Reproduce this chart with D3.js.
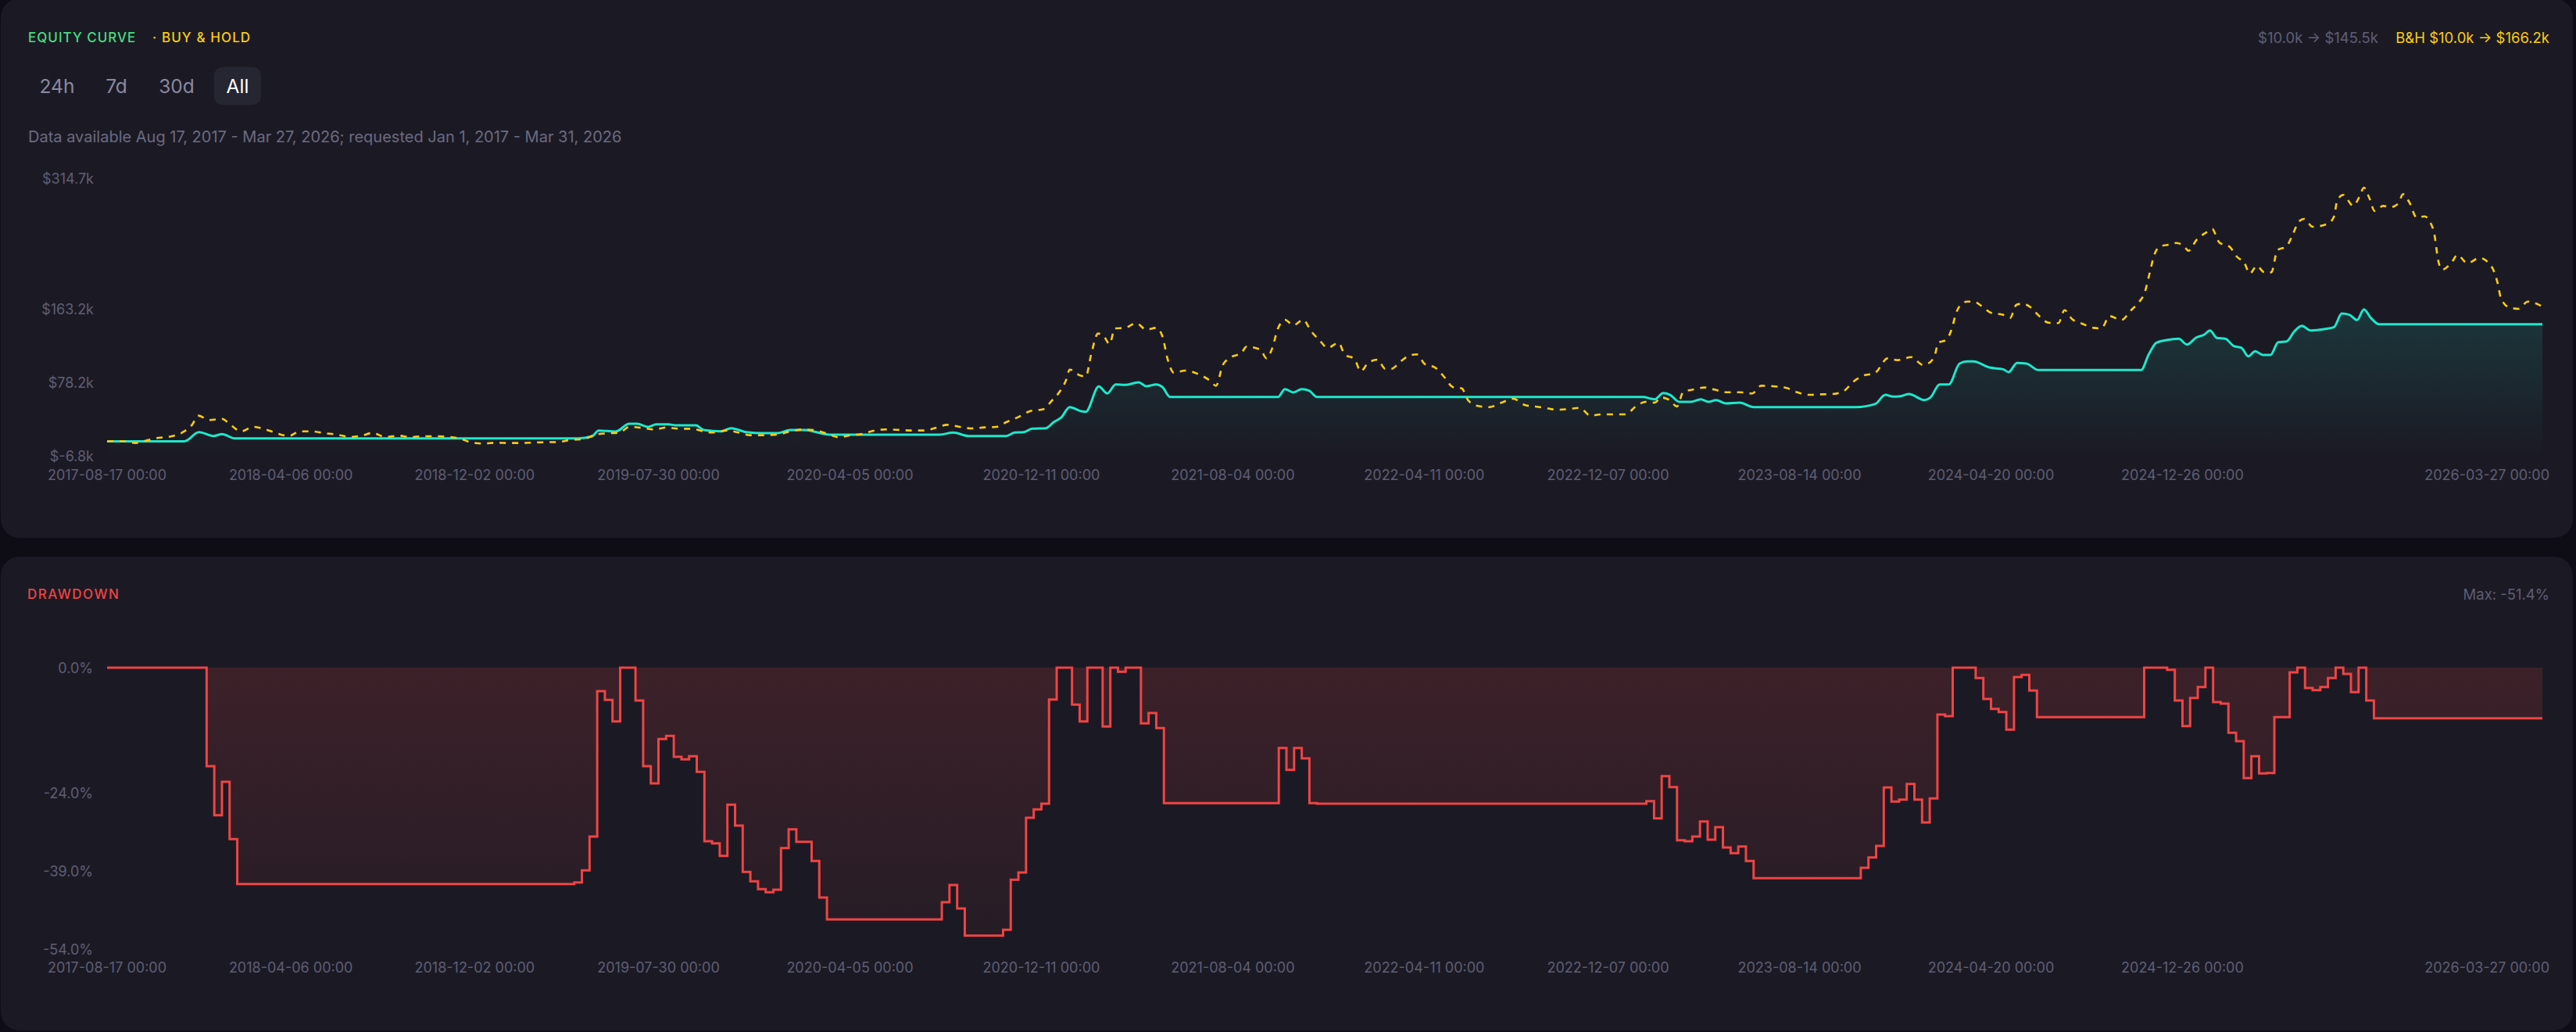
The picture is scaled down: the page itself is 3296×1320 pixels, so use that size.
<!DOCTYPE html>
<html>
<head>
<meta charset="utf-8">
<script src="https://cdn.jsdelivr.net/npm/d3@7"></script>
<style>
  html, body { margin: 0; padding: 0; background: #0e0d16; }
  svg { display: block; font-family: Inter, "Noto Sans", sans-serif; }
</style>
</head>
<body>
<div id="chart"></div>
<script>
// Equity curve vs buy & hold, with drawdown panel underneath

// ---- Data (x = sample index along the backtest, values in $k / %) ----
var strategyPts = [[0,10],[10.1,10],[12.0,20.6],[13.9,16.1],[15.0,18.3],[16.7,13.4],[61.5,13.4],[63.3,15.6],[64.2,22.5],[66.4,21.3],[68.2,30.3],[69.2,30.3],[70.7,26.7],[71.7,29.7],[73.3,29.7],[74.3,28.5],[76.9,28.5],[77.9,23.1],[80.2,21.5],[81.5,25.2],[83.5,20.6],[85.6,19.5],[87.6,19.5],[89.2,23.1],[91.2,23.1],[92.2,21.5],[94.3,17.7],[108.7,17.7],[110.5,20.1],[112.5,16.1],[117.4,16.1],[118.5,20.1],[119.7,20.6],[120.8,24.6],[122.6,25.2],[123.6,32.1],[124.6,37.6],[125.7,49.6],[127.2,44.8],[127.8,44.2],[129.5,73.5],[130.6,65.4],[131.7,75.9],[132.9,75.3],[134.7,78.3],[135.7,73.8],[137.0,75.9],[137.8,72.9],[138.8,61.4],[152.9,61.4],[153.8,70.5],[154.9,66.6],[156.0,70.5],[157.0,68.4],[158.0,61.4],[200.6,61.4],[201.6,59.3],[202.1,58.7],[203.2,65.9],[204.1,63.8],[205.3,55.7],[206.8,55.7],[208.1,58.7],[209.1,55.7],[210.1,57.8],[211.4,53.9],[213.2,54.8],[215.0,49.6],[228.4,49.6],[230.9,53.3],[232.2,63.8],[233.2,61.7],[234.2,62.3],[235.3,64.7],[237.3,57.8],[238.1,60.8],[239.3,75.9],[240.5,75.9],[241.9,100.1],[242.9,102.5],[243.7,102.5],[245.8,95.5],[247.6,93.4],[248.3,90.1],[249.4,100.7],[250.6,100.1],[252.2,92.5],[265.6,92.5],[266.6,110.7],[267.6,124.2],[268.9,127.2],[270.5,128.8],[271.6,122.1],[272.8,130.2],[273.8,133.3],[274.6,138.4],[275.5,129.7],[276.6,128.8],[277.7,120.3],[278.7,118.2],[279.6,108.5],[280.5,114.3],[281.5,110.0],[282.5,110.0],[283.5,124.8],[284.6,125.7],[285.6,137.2],[286.6,143.8],[287.7,138.4],[289.5,139.9],[290.8,142.4],[291.8,158.0],[292.8,156.6],[293.8,150.5],[294.7,162.8],[295.6,152.9],[296.7,145.5],[318,145.5]];

var buyHoldPts = [[0,10],[1.9,10.2],[3.7,8.0],[5.2,11.0],[6.7,14.0],[8.3,15.6],[9.8,20.1],[11.1,29.1],[11.9,39.7],[13.4,34.6],[15.0,36.0],[16.2,28.5],[17.5,21.5],[19.1,26.7],[20.6,24.0],[22.1,19.5],[23.7,16.1],[25.2,21.5],[26.8,21.5],[28.3,19.5],[30.1,17.7],[31.7,14.9],[33.2,16.5],[34.7,19.7],[36.3,14.9],[38.1,16.5],[39.6,14.9],[41.2,15.8],[43.0,15.8],[44.5,15.2],[46.1,13.1],[47.6,8.6],[49.2,7.4],[50.7,8.3],[52.5,8.0],[54.0,8.0],[55.8,8.6],[57.3,8.9],[58.9,9.2],[60.5,11.6],[62.2,12.5],[63.8,17.7],[65.3,19.2],[66.9,20.1],[68.2,26.7],[69.9,25.5],[71.5,23.7],[73.0,26.1],[74.6,24.6],[76.4,24.6],[77.9,21.5],[78.9,20.1],[80.9,22.5],[82.5,20.1],[84.0,17.1],[85.6,17.1],[87.4,17.7],[89.2,21.5],[90.9,23.7],[92.2,23.1],[93.8,19.5],[95.6,14.7],[97.1,17.1],[98.7,18.6],[100.2,22.5],[101.7,23.7],[103.6,23.1],[105.1,22.5],[106.6,22.5],[108.2,25.5],[109.7,29.1],[111.2,27.0],[112.8,24.9],[114.6,26.1],[116.1,26.7],[117.4,32.1],[119.0,38.2],[120.5,44.8],[122.3,47.3],[123.3,56.4],[124.4,67.7],[125.2,80.4],[125.7,93.1],[127.0,86.5],[127.8,85.0],[128.5,110.7],[129.4,134.8],[130.1,132.4],[130.9,122.7],[131.6,140.8],[132.9,141.4],[134.4,146.9],[135.7,139.3],[137.0,141.4],[137.8,131.8],[138.5,104.6],[139.3,89.5],[140.8,91.9],[142.6,87.4],[143.9,81.0],[144.8,74.4],[145.7,98.5],[146.8,107.6],[148.1,112.1],[148.8,119.7],[150.6,116.1],[151.4,106.1],[152.1,116.7],[152.9,140.8],[153.8,150.8],[154.9,144.4],[156.2,150.8],[157.2,137.8],[158.3,127.2],[159.4,118.2],[160.8,124.2],[161.6,110.7],[162.9,105.2],[163.7,91.0],[164.6,100.1],[165.9,104.6],[166.9,94.0],[167.7,94.0],[168.8,101.6],[170.0,109.1],[171.0,110.7],[172.1,99.2],[173.4,95.5],[174.7,83.5],[175.7,72.9],[176.9,71.4],[177.7,57.8],[179.0,50.9],[180.5,49.6],[182.1,54.8],[183.6,59.3],[185.2,51.8],[186.5,50.3],[187.8,48.7],[189.3,46.6],[190.8,47.3],[192.3,48.7],[193.7,39.7],[195.2,41.2],[196.8,41.2],[198.3,41.2],[199.6,50.3],[200.9,55.7],[202.1,54.8],[202.9,60.8],[204.0,57.8],[205.0,50.3],[205.8,66.8],[207.1,69.9],[208.6,72.3],[209.9,69.9],[211.4,66.8],[213.2,66.8],[214.8,65.4],[216.0,74.4],[217.5,73.8],[219.1,72.3],[220.7,66.8],[222.2,63.8],[223.8,64.4],[225.3,64.7],[226.9,69.0],[227.9,78.1],[229.2,85.6],[230.9,89.5],[232.5,106.1],[233.8,104.0],[235.6,107.6],[237.1,98.5],[237.8,100.1],[238.7,110.7],[239.1,124.2],[240.1,127.2],[240.9,140.8],[241.4,157.4],[241.9,166.5],[242.9,171.9],[243.7,171.9],[244.8,166.5],[246.0,158.9],[247.6,156.5],[248.5,152.9],[249.3,168.0],[250.1,169.5],[251.2,165.0],[252.2,155.9],[253.5,147.4],[254.8,146.9],[255.6,161.9],[256.6,151.4],[257.9,146.3],[259.4,141.4],[260.4,140.8],[261.5,155.0],[263.0,150.5],[264.3,161.9],[265.3,171.0],[266.1,183.1],[266.7,204.2],[267.3,225.3],[268.1,235.9],[269.4,238.0],[270.2,239.8],[271.2,235.9],[271.8,230.7],[272.8,242.9],[274.1,251.9],[274.9,256.1],[275.3,250.1],[275.8,240.4],[277.2,235.0],[278.1,223.9],[279.1,216.3],[279.8,204.2],[280.7,213.3],[281.7,205.7],[282.6,205.7],[283.4,231.4],[284.6,235.9],[285.4,249.5],[286.2,264.6],[286.9,267.6],[288.0,258.5],[290.0,262.2],[290.8,270.6],[291.2,288.7],[292.0,295.4],[293.3,282.7],[294.1,293.2],[294.7,303.8],[295.4,291.8],[296.1,276.7],[297.2,282.7],[298.2,281.2],[299.2,285.7],[299.8,296.3],[300.6,287.3],[301.6,269.1],[302.6,270.6],[303.3,264.6],[303.9,249.5],[304.4,219.3],[304.9,208.8],[306.2,217.8],[306.9,226.0],[308.2,216.3],[309.8,222.3],[311.3,213.3],[312.1,195.2],[312.6,175.5],[313.7,165.0],[314.9,163.5],[316.1,171.9],[318,166.2]];

// drawdown change points (step after), in %
var drawdownPts = [[0,0],[13,-18.9],[14,-28.3],[15,-21.9],[16,-32.9],[17,-41.5],[61,-41.2],[62,-38.9],[63,-32.4],[64,-4.5],[65,-6.2],[66,-10.3],[67,0],[69,-6.3],[70,-18.9],[71,-22.2],[72,-13.7],[73,-13.1],[74,-17.1],[75,-17.6],[76,-17.0],[77,-20.0],[78,-33.3],[79,-33.7],[80,-36.1],[81,-26.3],[82,-30.3],[83,-39.2],[84,-41.0],[85,-42.5],[86,-43.1],[87,-42.6],[88,-34.6],[89,-31.0],[90,-33.4],[92,-37.1],[93,-44.1],[94,-48.3],[109,-45.0],[110,-41.7],[111,-46.2],[112,-51.4],[117,-50.3],[118,-40.7],[119,-39.3],[120,-28.8],[121,-27.2],[122,-26.1],[123,-6.1],[124,0],[126,-7.1],[127,-10.3],[128,0],[130,-11.3],[131,0],[132,-0.8],[133,0],[135,-10.7],[136,-8.7],[137,-11.6],[138,-26.0],[153,-15.4],[154,-19.6],[155,-15.4],[156,-17.4],[157,-26.0],[158,-26.1],[201,-25.6],[202,-28.9],[203,-20.8],[204,-22.9],[205,-33.1],[206,-33.3],[207,-32.4],[208,-29.5],[209,-33.0],[210,-30.6],[211,-34.5],[212,-35.6],[213,-34.3],[214,-37.1],[215,-40.4],[229,-38.4],[230,-36.4],[231,-34.2],[232,-23.0],[233,-25.7],[234,-25.3],[235,-22.3],[236,-25.3],[237,-29.7],[238,-25.1],[239,-9.0],[240,-9.3],[241,0],[244,-2.0],[245,-6.0],[246,-7.9],[247,-8.5],[248,-11.9],[249,-1.8],[250,-1.4],[251,-4.4],[252,-9.5],[266,0],[269,-0.4],[270,-6.3],[271,-11.2],[272,-5.8],[273,-3.7],[274,0],[275,-6.6],[276,-6.9],[277,-12.5],[278,-14.1],[279,-21.2],[280,-17.0],[281,-20.3],[282,-20.2],[283,-9.5],[284,-9.5],[285,-0.9],[286,0],[287,-3.9],[288,-4.3],[289,-3.7],[290,-2.0],[291,0],[292,-1.2],[293,-4.7],[294,0],[295,-6.3],[296,-9.7],[318,-9.7]];

// x tick positions (sample index) and their labels
var tickIdx = [0, 24, 48, 72, 97, 122, 147, 172, 196, 221, 246, 271, 318];
var tickLabels = ["2017-08-17 00:00", "2018-04-06 00:00", "2018-12-02 00:00", "2019-07-30 00:00",
  "2020-04-05 00:00", "2020-12-11 00:00", "2021-08-04 00:00", "2022-04-11 00:00",
  "2022-12-07 00:00", "2023-08-14 00:00", "2024-04-20 00:00", "2024-12-26 00:00", "2026-03-27 00:00"];

var equityTicks = [-6.8, 78.2, 163.2, 314.7];
var ddTicks = [0, -24, -39, -54];
var ranges = ["24h", "7d", "30d", "All"];

// ---- Layout ----
var width = 3296;
var height = 1320;
var plotLeft = 137;
var plotRight = 3253;
var labelRight = 3262;
var axisFont = 18;
var axisColor = "#5f5e74";

var svg = d3.select("#chart")
  .append("svg")
  .attr("width", width)
  .attr("height", height);

var defs = svg.append("defs");

var eqGrad = defs.append("linearGradient").attr("id", "eqFill")
  .attr("x1", 0).attr("y1", 0).attr("x2", 0).attr("y2", 1);
eqGrad.append("stop").attr("offset", "0%").attr("stop-color", "#1ee8cc").attr("stop-opacity", 0.14);
eqGrad.append("stop").attr("offset", "100%").attr("stop-color", "#1ee8cc").attr("stop-opacity", 0);

var ddGrad = defs.append("linearGradient").attr("id", "ddFill")
  .attr("x1", 0).attr("y1", 0).attr("x2", 0).attr("y2", 1);
ddGrad.append("stop").attr("offset", "0%").attr("stop-color", "#ef4444").attr("stop-opacity", 0.16);
ddGrad.append("stop").attr("offset", "100%").attr("stop-color", "#ef4444").attr("stop-opacity", 0.05);

// cards
svg.append("rect").attr("x", 1).attr("y", -2).attr("width", 3291).attr("height", 690)
  .attr("rx", 24).attr("fill", "#1b1a24");
svg.append("rect").attr("x", 1).attr("y", 712).attr("width", 3291).attr("height", 606)
  .attr("rx", 24).attr("fill", "#1b1a24");

var xScale = d3.scaleLinear().domain([0, 318]).range([plotLeft, plotRight]);
var yEq = d3.scaleLinear().domain([-6.8, 314.7]).range([583, 228]);
var yDd = d3.scaleLinear().domain([-54, 0]).range([1214, 854]);

// ---- Header ----
var header = svg.append("g");
header.append("text").attr("x", 36).attr("y", 48)
  .attr("dominant-baseline", "central")
  .attr("font-size", 17).attr("font-weight", 500).attr("letter-spacing", 1)
  .attr("fill", "#4ade80").text("EQUITY CURVE");
header.append("text").attr("x", 195).attr("y", 48)
  .attr("dominant-baseline", "central")
  .attr("font-size", 17).attr("font-weight", 500).attr("letter-spacing", 1.1)
  .attr("fill", "#facc15").text("· BUY & HOLD");

header.append("text").attr("x", labelRight).attr("y", 48)
  .attr("text-anchor", "end").attr("dominant-baseline", "central")
  .attr("font-size", 18.5).attr("fill", "#facc15")
  .text("B&H $10.0k → $166.2k");
header.append("text").attr("x", 3043).attr("y", 48)
  .attr("text-anchor", "end").attr("dominant-baseline", "central")
  .attr("font-size", 18.5).attr("fill", axisColor)
  .text("$10.0k → $145.5k");

// range buttons
var btnX = [73, 149, 226, 304];
header.append("rect").attr("x", 274).attr("y", 86).attr("width", 60).attr("height", 48)
  .attr("rx", 10).attr("fill", "#262532");
header.selectAll("text.btn").data(ranges).enter()
  .append("text")
  .attr("class", "btn")
  .attr("x", function(d, i) { return btnX[i]; })
  .attr("y", 110)
  .attr("text-anchor", "middle").attr("dominant-baseline", "central")
  .attr("font-size", 24.5)
  .attr("fill", function(d) { return d === "All" ? "#ffffff" : "#8a89a0"; })
  .text(function(d) { return d; });

header.append("text").attr("x", 36).attr("y", 175)
  .attr("dominant-baseline", "central")
  .attr("font-size", 20).attr("fill", "#6b6a82")
  .text("Data available Aug 17, 2017 - Mar 27, 2026; requested Jan 1, 2017 - Mar 31, 2026");

// ---- x labels helper ----
function drawXLabels(yPos) {
  svg.append("g").selectAll("text").data(tickIdx).enter()
    .append("text")
    .attr("x", function(d) { return xScale(d); })
    .attr("y", yPos)
    .attr("text-anchor", "middle").attr("dominant-baseline", "central")
    .attr("font-size", axisFont).attr("fill", axisColor)
    .text(function(d, i) { return tickLabels[i]; })
    .each(function() {
      // keep the last label inside the card
      var w = this.getComputedTextLength();
      var x = +this.getAttribute("x");
      if (x + w / 2 > labelRight) this.setAttribute("x", labelRight - w / 2);
    });
}

// ---- Equity panel ----
svg.append("g").selectAll("text").data(equityTicks).enter()
  .append("text")
  .attr("x", 120).attr("y", function(d) { return yEq(d); })
  .attr("text-anchor", "end").attr("dominant-baseline", "central")
  .attr("font-size", axisFont).attr("fill", axisColor)
  .text(function(d) { return "$" + d.toFixed(1) + "k"; });
drawXLabels(607);

var eqArea = d3.area()
  .x(function(d) { return xScale(d[0]); })
  .y0(yEq(-6.8))
  .y1(function(d) { return yEq(d[1]); })
  .curve(d3.curveMonotoneX);
var eqLine = d3.line()
  .x(function(d) { return xScale(d[0]); })
  .y(function(d) { return yEq(d[1]); })
  .curve(d3.curveMonotoneX);

svg.append("path").datum(strategyPts).attr("d", eqArea).attr("fill", "url(#eqFill)");
svg.append("path").datum(strategyPts).attr("d", eqLine)
  .attr("fill", "none").attr("stroke", "#1ee8cc").attr("stroke-width", 3);
svg.append("path").datum(buyHoldPts).attr("d", eqLine)
  .attr("fill", "none").attr("stroke", "#facc15").attr("stroke-width", 2.6)
  .attr("stroke-dasharray", "8 8");

// ---- Drawdown panel ----
svg.append("text").attr("x", 35).attr("y", 760)
  .attr("dominant-baseline", "central")
  .attr("font-size", 17).attr("font-weight", 500).attr("letter-spacing", 1.5)
  .attr("fill", "#ef4444").text("DRAWDOWN");
svg.append("text").attr("x", labelRight).attr("y", 760)
  .attr("text-anchor", "end").attr("dominant-baseline", "central")
  .attr("font-size", 18.5).attr("fill", axisColor)
  .text("Max: " + d3.min(drawdownPts, function(d) { return d[1]; }).toFixed(1) + "%");

svg.append("g").selectAll("text").data(ddTicks).enter()
  .append("text")
  .attr("x", 119).attr("y", function(d) { return yDd(d); })
  .attr("text-anchor", "end").attr("dominant-baseline", "central")
  .attr("font-size", axisFont).attr("fill", axisColor)
  .text(function(d) { return d.toFixed(1) + "%"; });
drawXLabels(1237);

var ddArea = d3.area()
  .x(function(d) { return xScale(d[0]); })
  .y0(yDd(0))
  .y1(function(d) { return yDd(d[1]); })
  .curve(d3.curveStepAfter);
var ddLine = d3.line()
  .x(function(d) { return xScale(d[0]); })
  .y(function(d) { return yDd(d[1]); })
  .curve(d3.curveStepAfter);

svg.append("path").datum(drawdownPts).attr("d", ddArea).attr("fill", "url(#ddFill)");
svg.append("path").datum(drawdownPts).attr("d", ddLine)
  .attr("fill", "none").attr("stroke", "#ef4444").attr("stroke-width", 3);
</script>
</body>
</html>
